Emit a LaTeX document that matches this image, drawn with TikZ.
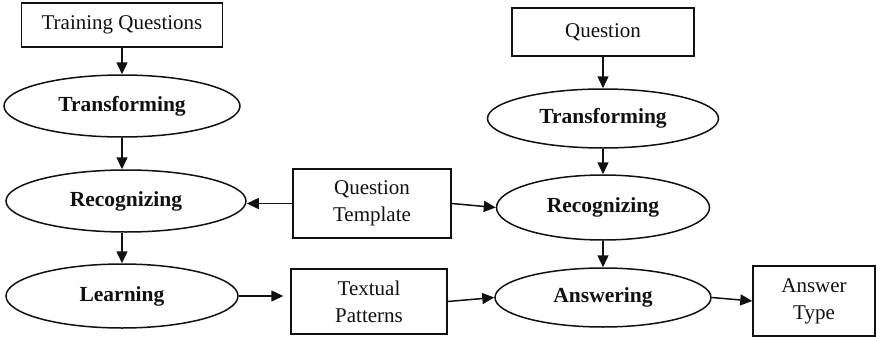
\documentclass[tikz,border=0pt]{standalone}
\usepackage{fontspec}
\setmainfont{Liberation Serif}
\usetikzlibrary{shapes.geometric,arrows.meta}
\definecolor{ink}{HTML}{111111}

\tikzset{
  boxnode/.style={draw=ink, line width=1.5pt, fill=white, align=center, inner sep=0pt,
    text=ink, font=\fontsize{21}{27}\selectfont},
  stagenode/.style={ellipse, draw=ink, line width=1.5pt, fill=white, inner sep=0pt,
    text=ink, font=\fontsize{21.5}{27}\selectfont\bfseries},
  flow/.style={draw=ink, line width=1.5pt, -{Triangle[length=12pt,width=11pt]}}
}

\begin{document}
\begin{tikzpicture}[x=1pt,y=-1pt]
\fill[white] (0,0) rectangle (876,340);
\useasboundingbox (0,0) rectangle (876,340);

\node[boxnode, minimum width=201pt, minimum height=44pt] (trainq) at (122,25) {Training Questions};
\node[stagenode, minimum width=236pt, minimum height=62pt] (transL) at (122,106) {Transforming};
\node[stagenode, minimum width=240pt, minimum height=62pt] (recogL) at (126,201) {Recognizing};
\node[stagenode, minimum width=232pt, minimum height=64pt] (learn) at (122,296) {Learning};

\node[boxnode, minimum width=158pt, minimum height=69pt] (qtemplate) at (372,203.5) {Question\\Template};
\node[boxnode, minimum width=156pt, minimum height=65pt] (tpatterns) at (369,301.5) {Textual\\Patterns};

\node[boxnode, minimum width=182pt, minimum height=48pt] (question) at (603,32) {Question};
\node[stagenode, minimum width=231pt, minimum height=59pt] (transR) at (603,118.5) {Transforming};
\node[stagenode, minimum width=213pt, minimum height=65pt] (recogR) at (603,207.5) {Recognizing};
\node[stagenode, minimum width=216pt, minimum height=59pt] (answer) at (603,297.5) {Answering};
\node[boxnode, minimum width=122pt, minimum height=70pt] (atype) at (814,301) {Answer\\Type};

\draw[flow] (trainq.south) -- (transL.north);
\draw[flow] (transL.south) -- (transL.south |- recogL.north);
\draw[flow] (transL.south |- recogL.south) -- (learn.north);
\draw[flow] (qtemplate.west) -- (qtemplate.west -| recogL.east);
\draw[flow] (qtemplate.east) -- (recogR.west);
\draw[flow, shorten >=7pt] (learn.east) -- (learn.east -| tpatterns.west);
\draw[flow] (tpatterns.east) -- (answer.west);

\draw[flow] (question.south) -- (transR.north);
\draw[flow] (transR.south) -- (recogR.north);
\draw[flow] (recogR.south) -- (answer.north);
\draw[flow] (answer.east) -- (atype.west);
\end{tikzpicture}
\end{document}
